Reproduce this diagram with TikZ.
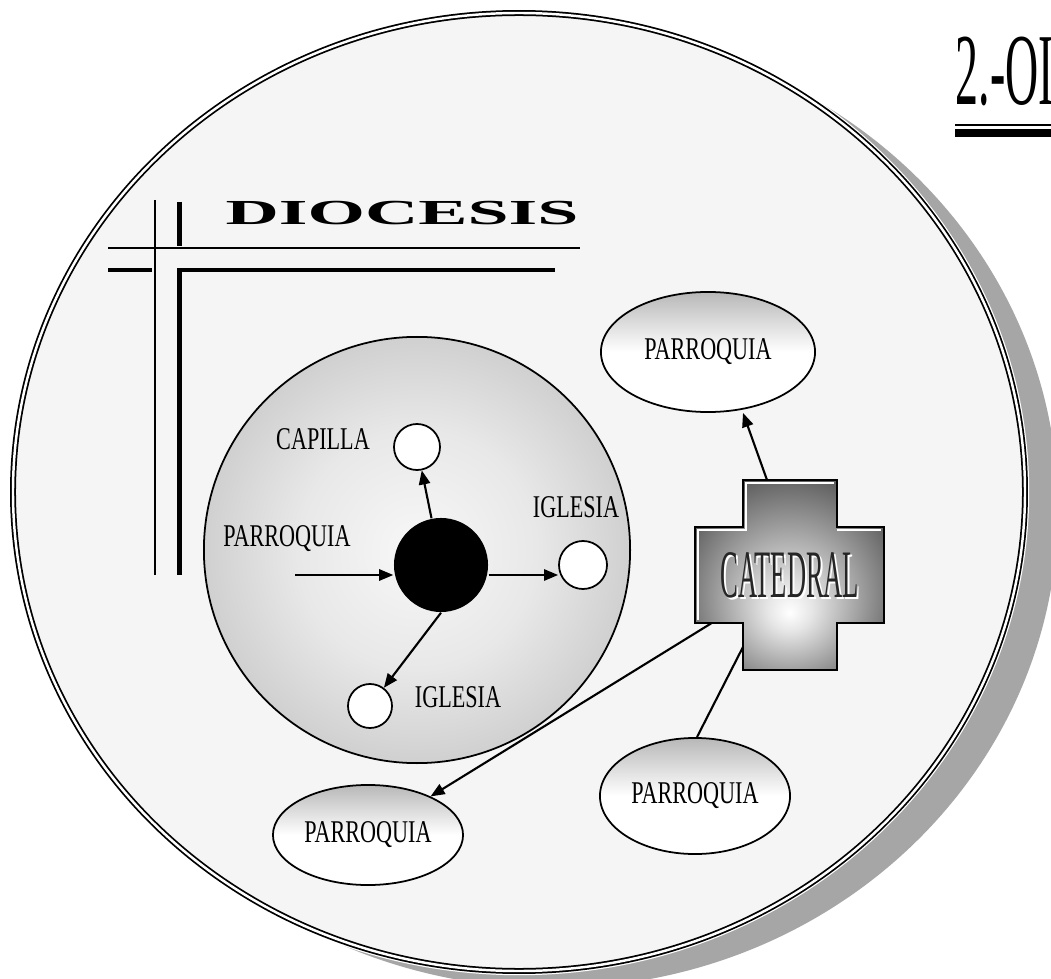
\documentclass[tikz,border=0pt]{standalone}
\usepackage{fontspec}
\setmainfont{Liberation Serif}
\newfontfamily\narrowfont[FakeStretch=0.7]{Liberation Serif}
\newfontfamily\catfont[FakeStretch=0.39]{Liberation Serif}
\newfontfamily\titlefont[FakeStretch=0.45]{Liberation Serif}
\newfontfamily\widefont[FakeStretch=2.1]{Liberation Serif Bold}
\usepackage{tikz}
\usetikzlibrary{arrows.meta,shapes.geometric,calc}

\pgfdeclareradialshading{parishglow}{\pgfpoint{0bp}{0bp}}{color(0bp)=(black!3); color(14bp)=(black!9); color(50bp)=(black!40)}
\pgfdeclareradialshading{crossglow}{\pgfpoint{0bp}{-10bp}}{color(0bp)=(white); color(6bp)=(black!10); color(30bp)=(black!62); color(50bp)=(black!80)}

\begin{document}
\begin{tikzpicture}[
            x=0.01cm, y=-0.01cm,
            lbl/.style={font=\narrowfont\fontsize{9}{10}\selectfont, inner sep=0pt},
            parish/.style={ellipse, draw, line width=0.5pt, top color=black!28, bottom color=white, middle color=white, inner sep=0pt, font=\narrowfont\fontsize{9}{10}\selectfont},
            chapel/.style={circle, draw, fill=white, line width=0.5pt, inner sep=0pt},
            bar/.style={rectangle, inner sep=0pt, outer sep=0pt},
            thinrule/.style={line width=0.4pt},
            thickrule/.style={line width=1.4pt},
            arrow/.style={-{Triangle[length=4pt,width=3.2pt]}, line width=0.6pt}
        ]
            \useasboundingbox (0,0) rectangle (1051,979);
            \fill[white] (0,0) rectangle (1051,979);

            % --- DIOCESIS (big circle with shadow) ---
            \fill[black!35] (552,509) ellipse [x radius=506, y radius=479];
            \draw[white, line width=2.4pt] (519,492) ellipse [x radius=506, y radius=479];
            \filldraw[fill=black!4, draw=black, line width=0.5pt, double=white, double distance=0.7pt] (519,492) ellipse [x radius=506, y radius=479];

            % --- TITLE ---
            \node[font=\titlefont\fontsize{29}{30}\selectfont, inner sep=0pt, anchor=base west] (title) at (955,105) {2.-OI};
            \draw[thinrule] (955,125) -- (1051,125);
            \draw[line width=2.3pt] (955,133) -- (1051,133);

            % --- DIOCESIS heading and rules ---
            \node[font=\widefont\fontsize{10}{12}\selectfont, inner sep=0pt] (dioc) at (402,213) {DIOCESIS};
            \draw[thinrule] (108,248) -- (580,248);
            \draw[thinrule] (155,200) -- (155,575);
            \draw[thickrule] (108,270) -- (152,270);
            \draw[thickrule] (179.5,202) -- (179.5,246);
            \draw[thickrule] (555,270) -- (179.5,270) -- (179.5,575);

            % --- PARROQUIA (inner circle) ---
            \node[circle, draw, line width=0.5pt, shade, shading=parishglow, minimum size=4.26cm] (parish) at (417,550) {};
            \node[circle, fill=black, minimum size=0.94cm, inner sep=0pt] (dot) at (441,565) {};
            \node[chapel, minimum size=0.46cm] (capilla) at (417,447) {};
            \node[chapel, minimum size=0.48cm] (iglR) at (583,565) {};
            \node[chapel, minimum size=0.44cm] (iglB) at (370,706) {};

            \node[lbl] (lblCapilla) at (323,439) {CAPILLA};
            \node[lbl] (lblParroquia) at (287,539) {PARROQUIA};
            \node[lbl] (lblIglR) at (576,507) {IGLESIA};
            \node[lbl] (lblIglB) at (458,697) {IGLESIA};

            \coordinate (pin) at (295,575);
            \draw[arrow] (pin) -- (dot.west |- pin);
            \draw[arrow] (dot.east |- pin) -- (iglR.west |- pin);
            \draw[arrow] (dot) -- (capilla);
            \draw[arrow] (dot.south) -- (iglB);

            % --- PARROQUIAS (ellipses) ---
            \node[parish, minimum width=2.14cm, minimum height=1.2cm] (parrT) at (708,352) {PARROQUIA};
            \node[parish, minimum width=1.9cm, minimum height=1.16cm] (parrR) at (695,796) {PARROQUIA};
            \node[parish, minimum width=1.9cm, minimum height=1.0cm] (parrBL) at (368,835) {PARROQUIA};

            % --- CATEDRAL (cross) ---
            \node[bar, minimum width=0.94cm, minimum height=1.9cm] (vbar) at (790,575) {};
            \node[bar, minimum width=1.89cm, minimum height=0.96cm] (hbar) at (789.5,575) {};
            \shadedraw[shading=crossglow, line width=0.8pt]
                (vbar.north west) -- (vbar.north east) -- (vbar.east |- hbar.north) -- (hbar.north east)
                -- (hbar.south east) -- (vbar.east |- hbar.south) -- (vbar.south east) -- (vbar.south west)
                -- (vbar.west |- hbar.south) -- (hbar.south west) -- (hbar.north west) -- (vbar.west |- hbar.north) -- cycle;
            \draw[white, line width=0.7pt]
                ($(hbar.south west)+(3,-3)$) -- ($(hbar.north west)+(3,3)$) -- ($(vbar.west |- hbar.north)+(3,3)$)
                -- ($(vbar.north west)+(3,3)$) -- ($(vbar.north east)+(-3,3)$);
            \draw[white, line width=0.7pt] ($(vbar.east |- hbar.north)+(0,3)$) -- ($(hbar.north east)+(-3,3)$);
            \node[font=\catfont\fontsize{19.3}{20}\selectfont, text=white, inner sep=0pt] at (792,577) {CATEDRAL};
            \node[font=\catfont\fontsize{19.3}{20}\selectfont, text=black!85, inner sep=0pt] (catedral) at (790,575) {CATEDRAL};

            % --- LINKS from the cathedral ---
            \draw[arrow] ([xshift=0.24cm]vbar.north west) -- ([xshift=0.35cm]parrT.south);
            \draw[arrow] (hbar) -- (parrBL);
            \draw[line width=0.6pt] ([yshift=-0.72cm]vbar.west) -- ([xshift=0.02cm]parrR.north);

        \end{tikzpicture}
\end{document}
